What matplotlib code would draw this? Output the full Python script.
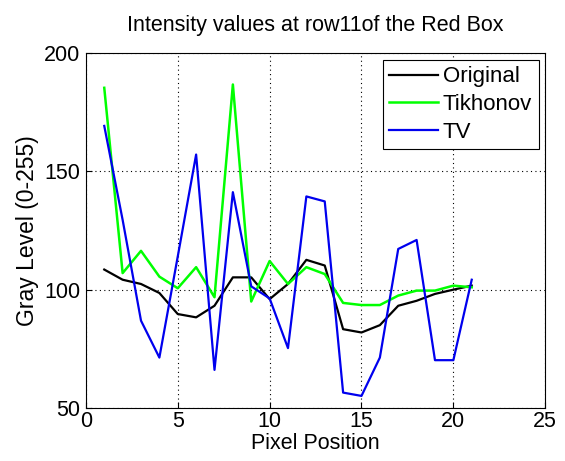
import matplotlib
matplotlib.use('Agg')
import matplotlib.pyplot as plt

plt.rcParams['font.family'] = ['Liberation Sans', 'DejaVu Sans']

# pixel positions along row 11
pixel_pos = list(range(1, 22))

original = [108.5, 104.2, 102.4, 98.6, 89.7, 88.3, 93.2, 105.2, 105.2, 96.0, 102.4,
            112.6, 110.2, 83.3, 81.9, 85.0, 93.2, 95.3, 98.2, 100.0, 101.7]
tikhonov = [185.3, 107.0, 116.4, 105.5, 100.6, 109.5, 96.8, 186.7, 95.0, 112.1, 102.4,
            109.5, 106.6, 94.4, 93.5, 93.5, 97.5, 99.6, 99.6, 101.7, 101.0]
tv = [169.2, 129.5, 86.9, 71.3, 114.0, 157.1, 66.1, 141.2, 101.4, 96.3, 75.3,
      139.4, 137.3, 56.5, 55.1, 71.3, 117.2, 121.0, 70.2, 70.2, 104.2]

fig = plt.figure(figsize=(5.65, 4.61), dpi=100)
ax = fig.add_axes([0.152, 0.115, 0.813, 0.77])

ax.plot(pixel_pos, original, color='black', lw=1.6, label='Original')
ax.plot(pixel_pos, tikhonov, color='#00ff00', lw=1.8, label='Tikhonov')
ax.plot(pixel_pos, tv, color='#0000ee', lw=1.6, label='TV')

ax.set_xlim(0, 25)
ax.set_ylim(50, 200)
ax.set_xticks([0, 5, 10, 15, 20, 25])
ax.set_yticks([50, 100, 150, 200])
ax.tick_params(direction='in', labelsize=15.5, length=4)
ax.tick_params(axis='x', pad=2)
ax.tick_params(axis='y', pad=4)
ax.grid(True, linestyle=(0, (1, 3)), color='black', linewidth=0.8)

ax.set_title('Intensity values at row11of the Red Box', fontsize=15.5, pad=16)
ax.set_xlabel('Pixel Position', fontsize=15.5, labelpad=1)
ax.set_ylabel('Gray Level (0-255)', fontsize=16.5, labelpad=4)

leg = ax.legend(loc='upper right', fontsize=16, fancybox=False, framealpha=1,
                edgecolor='black', handlelength=2.2, handletextpad=0.2,
                borderpad=0.3, labelspacing=0.3, borderaxespad=0.3)
leg.get_frame().set_linewidth(0.8)

fig.savefig('out.png', dpi=100)
